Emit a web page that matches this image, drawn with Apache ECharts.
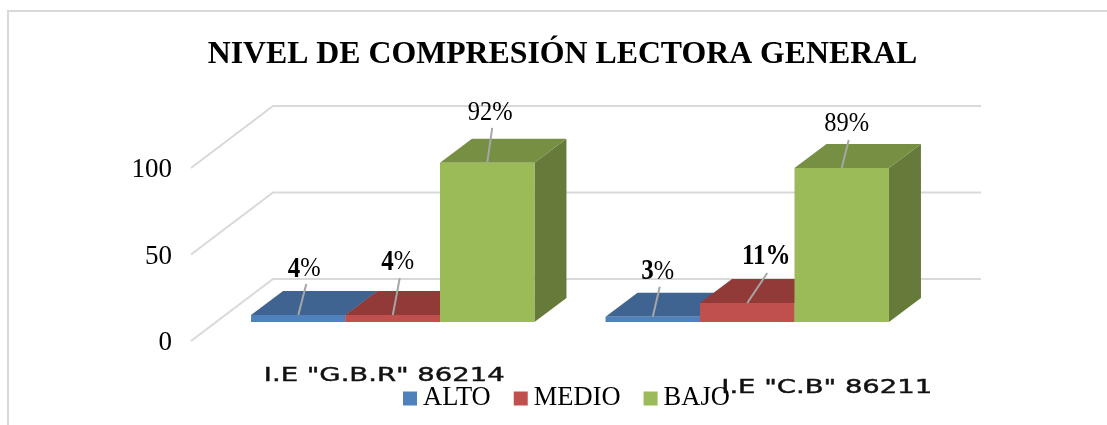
<!DOCTYPE html>
<html><head><meta charset="utf-8">
<style>html,body{margin:0;padding:0;background:#fff}#c{width:1107px;height:425px}</style>
<script src="https://cdn.jsdelivr.net/npm/echarts@6/dist/echarts.min.js"></script>
</head><body><div id="c"></div>
<script>
const categories = ['I.E "G.B.R" 86214', 'I.E "C.B" 86211'];
const alto = [4, 3];
const medio = [4, 11];
const bajo = [92, 89];
const yTicks = [0, 50, 100];
const SERIF = '"Liberation Serif","Times New Roman",serif';
const seriesStyle = [
  {name:'ALTO', data:alto, front:'#4F81BD', top:'#3F6491', side:'#38587F'},
  {name:'MEDIO', data:medio, front:'#C0504D', top:'#923A38', side:'#7F3230'},
  {name:'BAJO', data:bajo, front:'#9BBB59', top:'#768F43', side:'#667A39'}
];
// label layout relative to the front-top centre of each bar: [leader dx, leader dy, label dx, label dy]
const labelLayout = [
  [[8,-31,6,-46],[7,-30,5,-45.5]],
  [[7,-37,5,-53],[20,-30,19,-46.5]],
  [[5,-35,3,-50],[7,-28,5,-44]]
];
const boldDigits = [[true,true],[true,true],[false,false]];
const chart = echarts.init(document.getElementById('c'));
const PLANE = [24.5,-19], DEPTH = [32,-24], BACK = [82,-62];
function barItem(si){
  const st = seriesStyle[si];
  return function(params, api){
    const c = api.value(0), v = api.value(1);
    const band = api.size([1,0])[0], w = band*0.2665;
    const base = api.coord([c,0]), topP = api.coord([c,v]);
    const x0 = base[0]+PLANE[0]+(si-1.5)*w, x1 = x0+w;
    const yb = base[1]+PLANE[1], yt = topP[1]+PLANE[1];
    const dx = DEPTH[0], dy = DEPTH[1];
    const poly = (pts, fill)=>({type:'polygon',shape:{points:pts},style:{fill}});
    const ax = (x0+x1)/2, ay = yt;
    const l = labelLayout[si][c];
    const val = String(v);
    const bold = boldDigits[si][c];
    const allBold = v===11;
    const text = allBold ? '{b|'+val+'%}' : (bold ? '{b|'+val+'}{n|%}' : '{n|'+val+'%}');
    return {type:'group',children:[
      poly([[x1,yb],[x1+dx,yb+dy],[x1+dx,yt+dy],[x1,yt]], st.side),
      poly([[x0,yt],[x1,yt],[x1+dx,yt+dy],[x0+dx,yt+dy]], st.top),
      poly([[x0,yb],[x1,yb],[x1,yt],[x0,yt]], st.front),
      {type:'line',z2:5,shape:{x1:ax,y1:ay,x2:ax+l[0],y2:ay+l[1]},style:{stroke:'#A6A6A6',lineWidth:2}},
      {type:'text',z2:6,x:ax+l[2],y:ay+l[3],scaleY:1.15,style:{text,align:'center',verticalAlign:'middle',
        rich:{b:{fontFamily:SERIF,fontSize:25,fontWeight:'bold',fill:'#000',color:'#000'},
              n:{fontFamily:SERIF,fontSize:24.5,fill:'#000',color:'#000'}}}}
    ]};
  };
}
const catLabelPos = [[16,32],[104,44]];
const option = {
  animation:false,
  backgroundColor:'#fff',
  title:{text:'NIVEL DE COMPRESIÓN LECTORA GENERAL',left:557.5,top:34,textAlign:'center',
    textStyle:{fontFamily:SERIF,fontSize:31.8,fontWeight:'bold',color:'#000'}},
  legend:{left:398,top:380,icon:'rect',itemWidth:14,itemHeight:14,itemGap:23,selectedMode:false,
    data:['ALTO','MEDIO','BAJO'],
    textStyle:{fontFamily:SERIF,fontSize:26.5,color:'#000',padding:[0,0,0,1]}},
  grid:{left:191,width:709,top:168,height:173},
  xAxis:{type:'category',data:categories,axisLine:{show:false},axisTick:{show:false},axisLabel:{show:false},splitLine:{show:false}},
  yAxis:{type:'value',min:0,max:100,interval:50,axisLine:{show:false},axisTick:{show:false},splitLine:{show:false},
    axisLabel:{margin:19,formatter:'{a|{value}}',rich:{a:{fontFamily:SERIF,fontSize:27,color:'#000',padding:[4,0,0,0]}}}},
  graphic:[{type:'polyline',silent:true,z:-1,shape:{points:[[8,425],[8,11],[1107,11]]},style:{stroke:'#D9D9D9',lineWidth:2,fill:null}}],
  series:[
    {type:'custom',name:'grid',silent:true,z:1,coordinateSystem:'cartesian2d',encode:{y:0},data:yTicks.map(v=>[v]),
      renderItem(params,api){
        const cs = params.coordSys, v = api.value(0);
        const y = api.coord([0,v])[1];
        return {type:'polyline',shape:{points:[[cs.x,y],[cs.x+BACK[0],y+BACK[1]],[cs.x+cs.width+BACK[0]-1,y+BACK[1]]]},
          style:{stroke:'#D9D9D9',lineWidth:2,fill:null}};
      }},
    ...seriesStyle.map((s,i)=>({type:'custom',name:s.name,z:2+i,silent:true,coordinateSystem:'cartesian2d',
      itemStyle:{color:s.front},encode:{x:0,y:1},
      data:s.data.map((v,c)=>[c,v]),renderItem:barItem(i)})),
    {type:'custom',name:'cats',z:9,silent:true,coordinateSystem:'cartesian2d',encode:{x:0},
      data:categories.map((n,i)=>[i]),
      renderItem(params,api){
        const c = api.value(0), p = api.coord([c,0]), o = catLabelPos[c];
        return {type:'text',x:p[0]+o[0],y:p[1]+o[1]+2.5,scaleX:1.525,scaleY:1.08,
          style:{text:categories[c],align:'center',verticalAlign:'middle',
            fontFamily:'"DejaVu Sans",sans-serif',fontSize:18,fill:'#111',stroke:'#111',lineWidth:0.4}};
      }}
  ]
};
chart.setOption(option);
</script></body></html>
